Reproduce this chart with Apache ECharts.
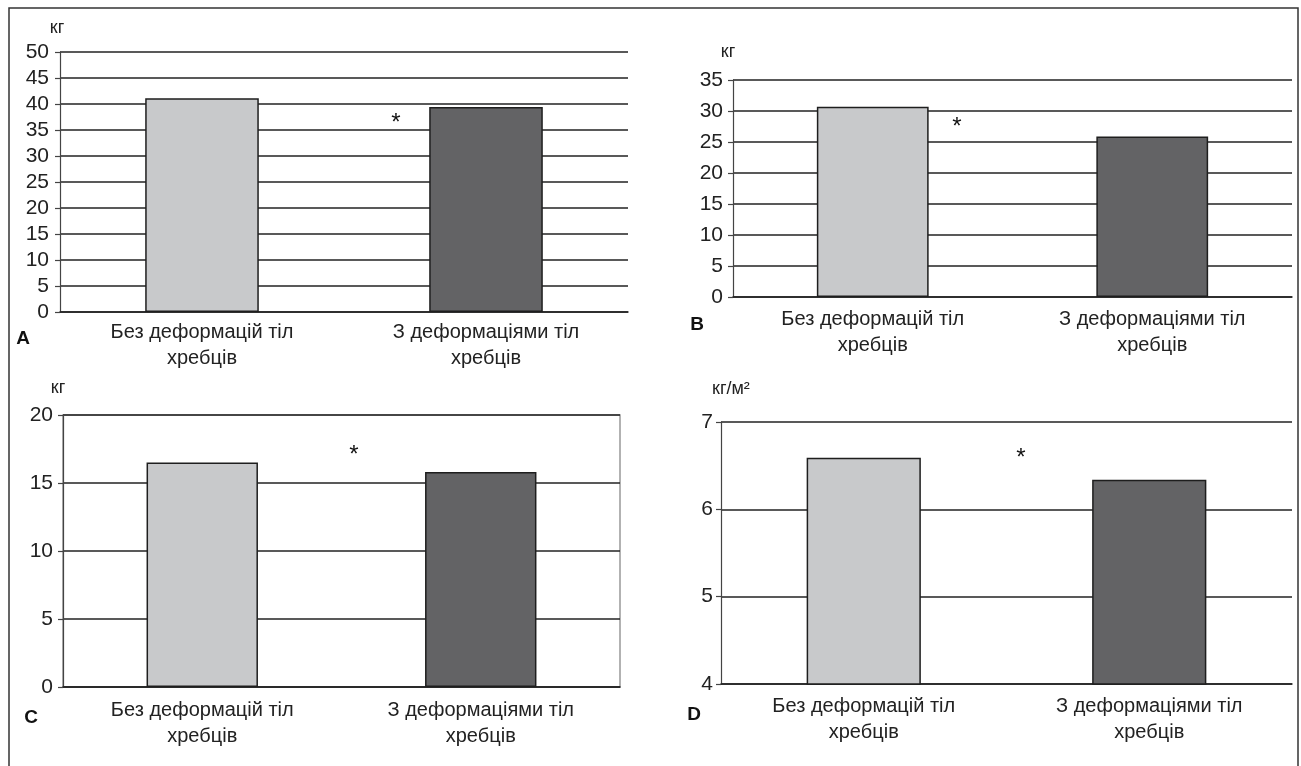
<!DOCTYPE html>
<html>
<head>
<meta charset="utf-8">
<script src="https://cdn.jsdelivr.net/npm/echarts@6/dist/echarts.min.js"></script>
<style>
html,body{margin:0;padding:0;background:#fff;}
#main{width:1301px;height:766px;}
</style>
</head>
<body>
<div id="main"></div>
<script>
const categories = ['Без деформацій тіл\nхребців', 'З деформаціями тіл\nхребців'];
const valuesA = [41.1, 39.4];
const valuesB = [30.7, 25.9];
const valuesC = [16.5, 15.8];
const valuesD = [6.59, 6.34];
const panelLetters = ['A', 'B', 'C', 'D'];
const unitLabels = ['кг', 'кг', 'кг', 'кг/м²'];
const yMin = [0, 0, 0, 4];
const yMax = [50, 35, 20, 7];
const yStep = [5, 5, 5, 1];

const FONT = '"Liberation Sans", Arial, sans-serif';
const TXT = '#222';
const barColors = ['#c8c9cb', '#636365'];

const grids = [
  {left: 60, top: 52, width: 568, height: 260},
  {left: 733, top: 80, width: 559, height: 217},
  {left: 63, top: 415, width: 557, height: 272, show: true, borderColor: '#999', borderWidth: 1.5},
  {left: 721, top: 422, width: 571, height: 262}
];
const labelMargins = [7, 9, 10, 9];
const yLabelMargins = [11, 10, 10, 8];
const seriesValues = [valuesA, valuesB, valuesC, valuesD];

const xAxes = grids.map((g, i) => ({
  type: 'category', gridIndex: i, data: categories,
  axisLine: {show: true, lineStyle: {color: '#222', width: 1.5}},
  axisTick: {show: false},
  axisLabel: {color: TXT, fontFamily: FONT, fontSize: 20, lineHeight: 26, margin: labelMargins[i], interval: 0}
}));
const yAxes = grids.map((g, i) => ({
  type: 'value', gridIndex: i, min: yMin[i], max: yMax[i], interval: yStep[i],
  axisLine: {show: true, lineStyle: {color: '#444', width: 1.2}},
  axisTick: {show: true, length: 5, lineStyle: {color: '#444', width: 1.2}},
  axisLabel: {color: TXT, fontFamily: FONT, fontSize: 21, margin: yLabelMargins[i]},
  splitLine: {show: true, lineStyle: {color: '#222', width: 1.5}}
}));
const series = seriesValues.map((vals, i) => ({
  type: 'bar', xAxisIndex: i, yAxisIndex: i, data: vals, barWidth: '40%',
  itemStyle: {
    color: p => barColors[p.dataIndex],
    borderColor: '#1e1e1e', borderWidth: 1.5
  },
  z: 3
}));

const letterPos = [[23, 339], [697, 325], [31, 718], [694, 715]];
const unitPos = [[57, 28, 'center'], [728, 52, 'center'], [58, 388, 'center'], [712, 389, 'left']];
const starPos = [[396, 118], [957, 122], [354, 450], [1021, 453]];

const graphic = [
  {type: 'rect', shape: {x: 9, y: 8, width: 1289, height: 770}, style: {fill: 'none', stroke: '#333', lineWidth: 1.5}, silent: true}
];
panelLetters.forEach((t, i) => graphic.push({
  type: 'text', x: letterPos[i][0], y: letterPos[i][1],
  style: {text: t, font: 'bold 19px ' + FONT, fill: '#111', textAlign: 'center', textVerticalAlign: 'middle'}
}));
unitLabels.forEach((t, i) => graphic.push({
  type: 'text', x: unitPos[i][0], y: unitPos[i][1],
  style: {text: t, font: '18px ' + FONT, fill: TXT, textAlign: unitPos[i][2], textVerticalAlign: 'middle'}
}));
starPos.forEach(p => graphic.push({
  type: 'text', x: p[0], y: p[1] + 5,
  style: {text: '*', font: '24px ' + FONT, fill: '#111', textAlign: 'center', textVerticalAlign: 'middle'}
}));

const chart = echarts.init(document.getElementById('main'), null, {renderer: 'canvas'});
chart.setOption({
  backgroundColor: '#fff',
  animation: false,
  grid: grids,
  xAxis: xAxes,
  yAxis: yAxes,
  series: series,
  graphic: graphic
});
</script>
</body>
</html>
